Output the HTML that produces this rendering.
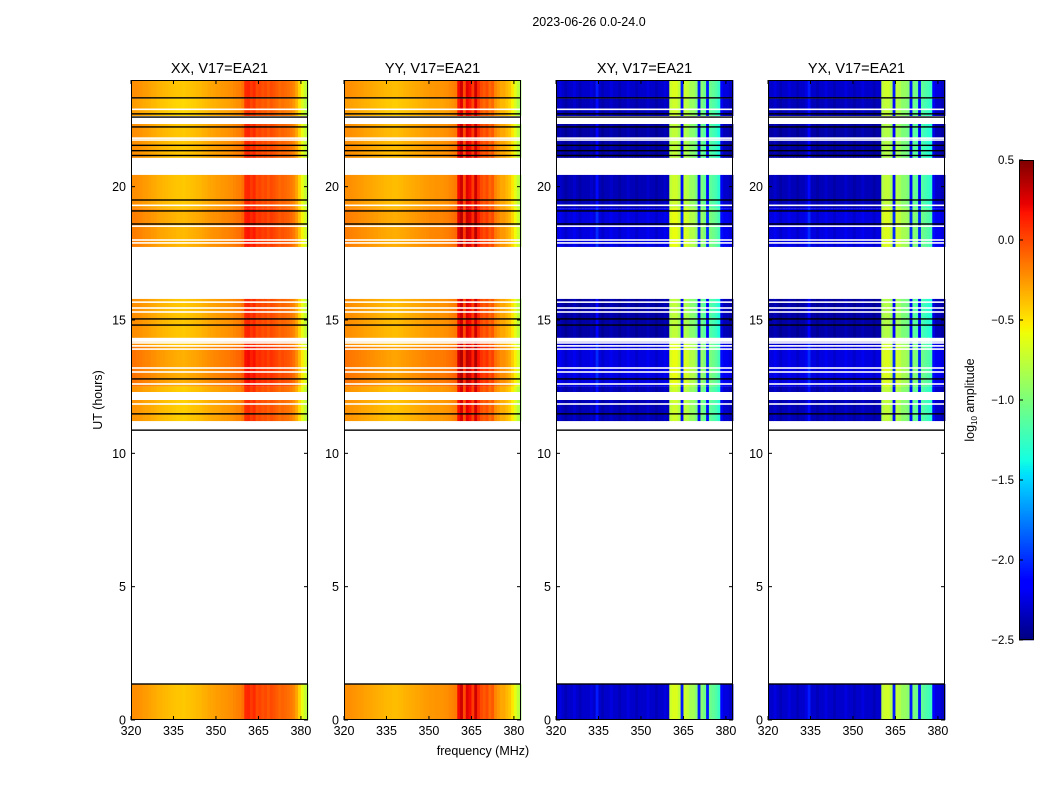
<!DOCTYPE html>
<html><head><meta charset="utf-8">
<style>
html,body{margin:0;padding:0;background:#fff;}
svg text{font-family:"Liberation Sans",sans-serif;}
</style></head>
<body>
<svg id="fig" width="1050" height="800" xmlns="http://www.w3.org/2000/svg">
<text x="589" y="26" font-size="12.5" text-anchor="middle">2023-06-26 0.0-24.0</text>
<text transform="translate(102,400) rotate(-90)" font-size="12.5" text-anchor="middle">UT (hours)</text>
<text x="483" y="755" font-size="12.5" text-anchor="middle">frequency (MHz)</text>
<text transform="translate(974,400) rotate(-90)" font-size="12.5" text-anchor="middle">log<tspan font-size="8" dy="3">10</tspan><tspan dy="-3"> amplitude</tspan></text>
<g id="panels"></g>
<g id="cbar"></g>
</svg>
<script>
// ---- data ----
const panelTitles = ["XX, V17=EA21","YY, V17=EA21","XY, V17=EA21","YX, V17=EA21"];
const freqStart = 320;           // MHz, first channel bin (1 MHz bins)
const xTicks = [320,335,350,365,380];
const yTicks = [0,5,10,15,20];
const cbarTicks = [0.5,0.0,-0.5,-1.0,-1.5,-2.0,-2.5];
const profileXX = [-0.22,-0.22,-0.23,-0.24,-0.26,
 -0.27,-0.28,-0.3,-0.31,-0.33,-0.34,-0.35,-0.36,-0.37,-0.38,
 -0.39,-0.4,-0.4,-0.41,-0.4,-0.39,-0.38,-0.37,-0.36,-0.35,
 -0.33,-0.32,-0.3,-0.29,-0.28,-0.27,-0.26,-0.25,-0.24,-0.23,
 -0.22,-0.2,-0.18,-0.17,-0.12,
 0.1,0.12,0.05,0.1,0.0,0.02,-0.02,0.0,-0.05,0.0,-0.03,-0.06,-0.1,-0.08,-0.1,-0.12,-0.15,-0.2,-0.3,-0.45,-0.6,-0.72,-0.85];
const profileYY = [-0.22,-0.22,-0.23,-0.24,-0.25,
 -0.26,-0.27,-0.28,-0.29,-0.3,-0.31,-0.32,-0.33,-0.34,-0.35,
 -0.36,-0.36,-0.37,-0.37,-0.36,-0.35,-0.34,-0.33,-0.32,-0.31,
 -0.3,-0.29,-0.28,-0.27,-0.26,-0.25,-0.25,-0.24,-0.24,-0.24,
 -0.23,-0.22,-0.2,-0.18,-0.15,
 0.2,0.3,0.0,0.25,0.2,0.05,0.3,0.1,0.0,-0.05,0.0,-0.1,-0.05,-0.2,-0.25,-0.3,-0.3,-0.35,-0.4,-0.5,-0.62,-0.75,-0.85];
const profileXY = [-2.35,-2.3,-2.35,-2.4,-2.35,-2.35,-2.3,-2.35,-2.4,-2.35,
 -2.35,-2.35,-2.3,-2.35,-2.1,-2.35,-2.4,-2.35,-2.35,-2.3,
 -2.35,-2.35,-2.4,-2.35,-2.35,-2.3,-2.35,-2.35,-2.4,-2.35,
 -2.35,-2.35,-2.3,-2.35,-2.35,-2.4,-2.35,-2.35,-2.3,-2.35,
 -0.75,-0.7,-0.7,-0.8,-2.1,-0.75,-0.8,-0.9,-0.9,-1.0,-2.1,-1.0,-1.1,-2.1,-1.1,-1.15,-1.2,-1.3,-2.2,-2.3,-2.3,-2.35,-2.35];
const profileYX = [-2.35,-2.35,-2.3,-2.35,-2.4,-2.35,-2.35,-2.3,-2.35,-2.35,
 -2.4,-2.35,-2.35,-2.3,-2.1,-2.35,-2.35,-2.4,-2.35,-2.35,
 -2.3,-2.35,-2.35,-2.4,-2.35,-2.35,-2.35,-2.3,-2.35,-2.35,
 -2.4,-2.35,-2.35,-2.3,-2.35,-2.35,-2.35,-2.4,-2.35,-2.35,
 -0.8,-0.75,-0.75,-0.85,-2.1,-0.8,-0.85,-0.95,-0.95,-1.0,-2.1,-1.05,-1.1,-2.1,-1.15,-1.2,-1.25,-1.3,-2.2,-2.3,-2.3,-2.35,-2.35];
const profiles = [profileXX, profileYY, profileXY, profileYX];
// time bands (hours) with data, and per-band amplitude offsets
const bandStart = [22.65, 23.3, 21.08, 19.19, 17.74, 14.34, 14.0, 12.5, 11.21, 0.0];
const bandEnd   = [23.3, 24.0, 22.35, 20.44, 19.19, 15.79, 14.34, 14.0, 12.5, 1.35];
const offsetPar   = [-0.05, 0.0, 0.0, 0.0, 0.05, 0.0, 0.0, 0.08, -0.02, 0.0];
const offsetCross = [0.0, 0.05, -0.05, 0.0, 0.1, -0.05, 0.05, 0.1, 0.0, 0.05];
// flagged white lines (hours) and wide white gaps
const whiteLines = [22.9,21.82,21.75,19.3,18.52,18.0,17.89,15.67,15.45,15.3,14.14,14.03,13.91,13.2,13.05,12.6,12.26,11.85];
const whiteGapStart = [14.18,12.0];
const whiteGapEnd   = [14.33,12.3];
// black lines (hours)
const blackLines = [23.33,22.73,22.61,22.24,21.55,21.35,21.17,19.5,19.09,18.6,15.04,14.81,12.79,11.48,10.87,1.35];
</script>
<script>
const NS="http://www.w3.org/2000/svg";
const panelX=[131,344,556,768], panelW=177, plotTop=80, plotBot=720;
const pxPerMHz=panelW/62.5;
function yOf(h){return plotBot-h*(plotBot-plotTop)/24;}
function xOf(p,f){return panelX[p]+(f-freqStart)*pxPerMHz;}
function interp(pts,t){for(let i=1;i<pts.length;i++){if(t<=pts[i][0]){const a=pts[i-1],b=pts[i];return a[1]+(b[1]-a[1])*(t-a[0])/(b[0]-a[0]);}}return pts[pts.length-1][1];}
function jet(v){let t=(v+2.5)/3;t=Math.max(0,Math.min(1,t));
 const r=interp([[0,0],[0.35,0],[0.66,1],[0.89,1],[1,0.5]],t);
 const g=interp([[0,0],[0.125,0],[0.375,1],[0.64,1],[0.91,0],[1,0]],t);
 const b=interp([[0,0.5],[0.11,1],[0.34,1],[0.65,0],[1,0]],t);
 return `rgb(${Math.round(r*255)},${Math.round(g*255)},${Math.round(b*255)})`;}
function mk(tag,attrs,parent){const e=document.createElementNS(NS,tag);for(const k in attrs)e.setAttribute(k,attrs[k]);parent.appendChild(e);return e;}
const panelsG=document.getElementById('panels');
for(let p=0;p<4;p++){
 const g=mk('g',{},panelsG);
 
 
 const prof=profiles[p], offs=p<2?offsetPar:offsetCross;
 for(let b=0;b<bandStart.length;b++){
  const y1=yOf(bandEnd[b]), y2=yOf(bandStart[b]);
  for(let i=0;i<prof.length;i++){
   const x1=xOf(p,freqStart+i), x2=Math.min(xOf(p,freqStart+i+1),panelX[p]+panelW);
   const r=mk('rect',{x:x1.toFixed(2),y:y1.toFixed(2),width:(x2-x1+0.4).toFixed(2),height:(y2-y1).toFixed(2),fill:jet(prof[i]+offs[b])},g);
   
   
  }
 }
 whiteLines.forEach(h=>{const r=mk('rect',{x:panelX[p],y:yOf(h)-0.8,width:panelW,height:1.6,fill:'#fff'},g);
  
  });
 for(let k=0;k<whiteGapStart.length;k++){const r=mk('rect',{x:panelX[p],y:yOf(whiteGapEnd[k]),width:panelW,height:yOf(whiteGapStart[k])-yOf(whiteGapEnd[k]),fill:'#fff'},g);
  
  }
 blackLines.forEach(h=>{const r=mk('rect',{x:panelX[p],y:yOf(h)-0.7,width:panelW,height:1.4,fill:'#000'},g);
  
  });
 const fr=mk('rect',{x:panelX[p]+0.5,y:plotTop+0.5,width:panelW-1,height:plotBot-plotTop-1,fill:'none',stroke:'#000','stroke-width':1},g);
 
 
 const t=mk('text',{x:panelX[p]+panelW/2,y:plotTop-7,'font-size':14.5,'text-anchor':'middle'},g);t.textContent=panelTitles[p];
 
 
 xTicks.forEach(f=>{const x=xOf(p,f);
  mk('line',{x1:x,x2:x,y1:plotBot,y2:plotBot-4,stroke:'#000'},g);mk('line',{x1:x,x2:x,y1:plotTop,y2:plotTop+4,stroke:'#000'},g);
  const tx=mk('text',{x:x,y:plotBot+15,'font-size':12.5,'text-anchor':'middle'},g);tx.textContent=f;
  
  });
 yTicks.forEach(h=>{const y=yOf(h);
  mk('line',{x1:panelX[p],x2:panelX[p]+4,y1:y,y2:y,stroke:'#000'},g);mk('line',{x1:panelX[p]+panelW,x2:panelX[p]+panelW-4,y1:y,y2:y,stroke:'#000'},g);
  const ty=mk('text',{x:panelX[p]-5,y:y+4.5,'font-size':12.5,'text-anchor':'end'},g);ty.textContent=h;
  
  });
}
// colorbar
const cb=document.getElementById('cbar');


const cbX=1019,cbW=15,cbTop=160,cbBot=640;
for(let i=0;i<240;i++){const v=-2.5+3*(i+0.5)/240;
 mk('rect',{x:cbX,y:cbBot-(i+1)*2,width:cbW,height:2.3,fill:jet(v)},cb);}
mk('rect',{x:cbX+0.5,y:cbTop+0.5,width:cbW-1,height:cbBot-cbTop-1,fill:'none',stroke:'#000'},cb);
cbarTicks.forEach(v=>{const y=cbBot-(v+2.5)/3*(cbBot-cbTop);
 mk('line',{x1:cbX,x2:cbX+4,y1:y,y2:y,stroke:'#000'},cb);
 const t=mk('text',{x:cbX-5,y:y+4,'font-size':11.5,'text-anchor':'end'},cb);t.textContent=(v<0?'\u2212':'')+Math.abs(v).toFixed(1);
 
 });
</script>
</body></html>
